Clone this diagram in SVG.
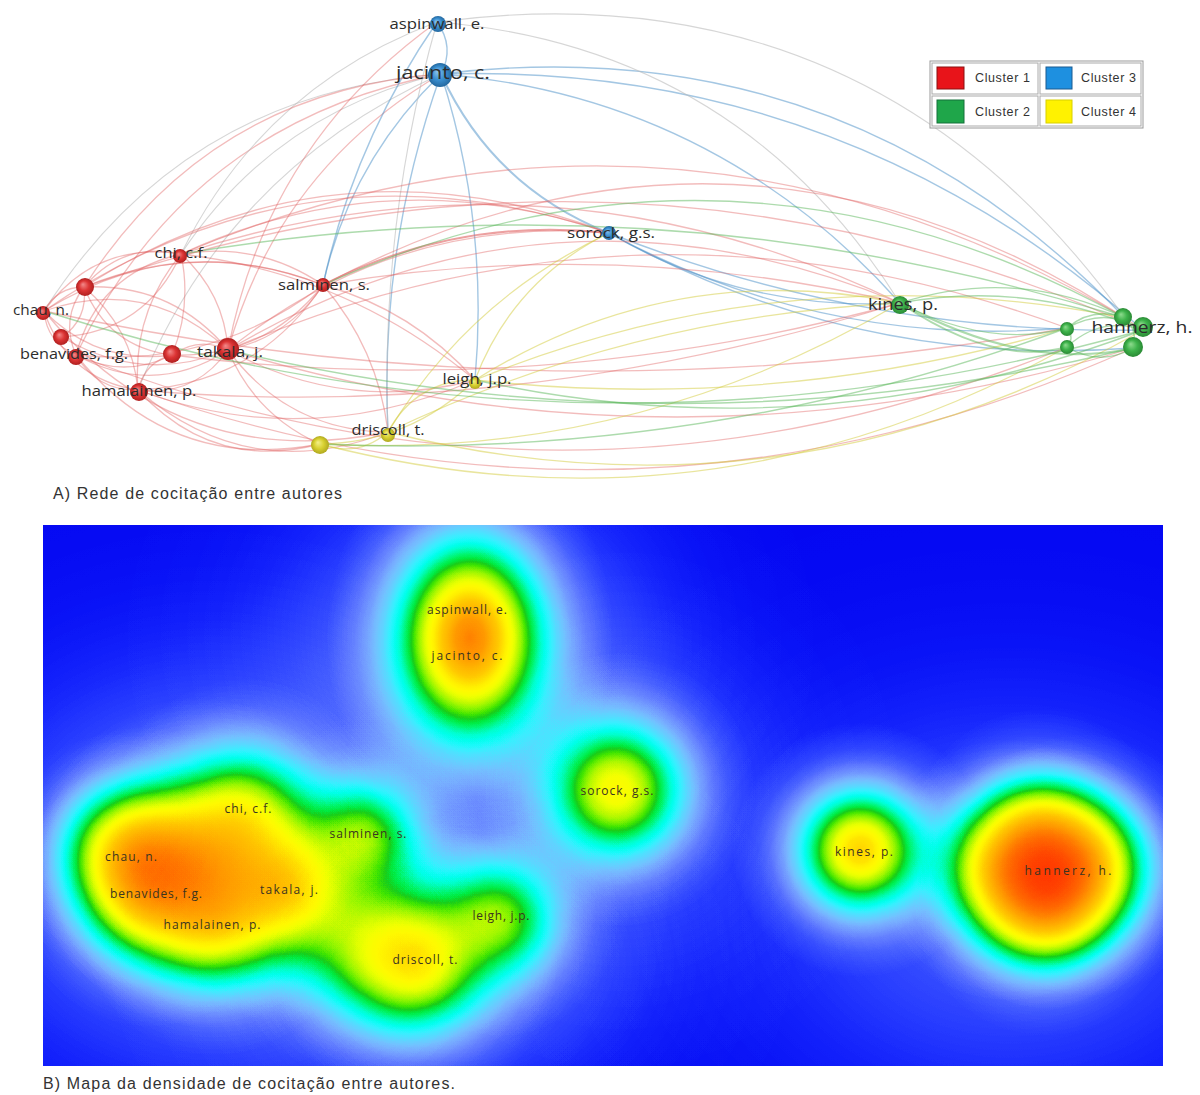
<svg xmlns="http://www.w3.org/2000/svg" width="1200" height="1095" viewBox="0 0 1200 1095">
<style>
.e path{fill:none}
.r{stroke:#e06060;stroke-opacity:.42;stroke-width:1.3}
.b{stroke:#4a90c8;stroke-opacity:.5;stroke-width:1.4}
.g{stroke:#5cb85c;stroke-opacity:.5;stroke-width:1.4}
.y{stroke:#d4cc3c;stroke-opacity:.5;stroke-width:1.3}
.gr{stroke:#bbbbbb;stroke-opacity:.6;stroke-width:1.1}
.lbl{font-family:"Open Sans","DejaVu Sans",sans-serif;fill:#2c2c2c;text-anchor:middle}
.dl{font-family:"Open Sans","DejaVu Sans",sans-serif;font-size:12px;fill:#3a3420;text-anchor:middle}
.cap{font-family:"Liberation Sans",Arial,sans-serif;font-size:16px;fill:#333}
.leg{font-family:"Liberation Sans",Arial,sans-serif;font-size:12.5px;fill:#333}
.k{fill:url(#kg)}
</style>
<defs>
<radialGradient id="nr" cx="50%" cy="50%" r="50%" fx="38%" fy="35%"><stop offset="0" stop-color="#f38a8a"/><stop offset=".55" stop-color="#dc3434"/><stop offset="1" stop-color="#b01f1f"/></radialGradient>
<radialGradient id="nb" cx="50%" cy="50%" r="50%" fx="38%" fy="35%"><stop offset="0" stop-color="#8cc4ee"/><stop offset=".55" stop-color="#3a8fd0"/><stop offset="1" stop-color="#23689f"/></radialGradient>
<radialGradient id="ng" cx="50%" cy="50%" r="50%" fx="38%" fy="35%"><stop offset="0" stop-color="#8fdc8f"/><stop offset=".55" stop-color="#3db24a"/><stop offset="1" stop-color="#2a8a35"/></radialGradient>
<radialGradient id="ny" cx="50%" cy="50%" r="50%" fx="38%" fy="35%"><stop offset="0" stop-color="#f4f08a"/><stop offset=".55" stop-color="#d8d030"/><stop offset="1" stop-color="#b0a820"/></radialGradient>
<radialGradient id="kg" cx="50%" cy="50%" r="50%">
<stop offset="0" stop-color="#fff" stop-opacity="1"/><stop offset=".1" stop-color="#fff" stop-opacity=".956"/><stop offset=".2" stop-color="#fff" stop-opacity=".835"/><stop offset=".3" stop-color="#fff" stop-opacity=".667"/><stop offset=".4" stop-color="#fff" stop-opacity=".487"/><stop offset=".5" stop-color="#fff" stop-opacity=".325"/><stop offset=".6" stop-color="#fff" stop-opacity=".198"/><stop offset=".7" stop-color="#fff" stop-opacity=".11"/><stop offset=".8" stop-color="#fff" stop-opacity=".056"/><stop offset=".9" stop-color="#fff" stop-opacity=".026"/><stop offset="1" stop-color="#fff" stop-opacity="0"/>
</radialGradient>
<filter id="heat" filterUnits="userSpaceOnUse" x="43" y="525" width="1120" height="541" color-interpolation-filters="sRGB">
<feComponentTransfer>
<feFuncR type="table" tableValues=".02 .04 .08 .14 .2 .27 .35 .41 .45 .47 .45 .39 .31 .22 .1 0 0 0 0 0 .1 .25 .45 .62 .76 .88 .96 1 1 1 1 1 1 1 1 1 1 1 1 1 1"/>
<feFuncG type="table" tableValues=".03 .08 .14 .22 .29 .37 .45 .53 .61 .69 .76 .82 .88 .94 .98 1 1 .98 .96 .92 .8 .9 .94 .97 .98 1 1 .98 .94 .88 .82 .76 .71 .65 .59 .51 .43 .35 .25 .16 .08"/>
<feFuncB type="table" tableValues=".95 .97 .99 1 1 1 1 1 1 1 1 1 1 1 .98 .92 .8 .62 .42 .25 .1 0 0 0 0 0 0 0 0 0 0 0 0 0 0 0 0 0 0 0 0"/>
</feComponentTransfer>
</filter>
<clipPath id="dclip"><rect x="43" y="525" width="1120" height="541"/></clipPath>
</defs>
<rect width="1200" height="1095" fill="#fff"/>

<g id="edges" class="e">
<path class="b" d="M437 22 Q455 47 441 74"/>
<path class="b" style="stroke-width:2" d="M441 74 Q493 187 609 233"/>
<path class="b" d="M441 74 Q843 62 1143 330"/>
<path class="b" d="M441 74 Q716 97 900 303"/>
<path class="gr" d="M437 22 Q870 -36 1125 318"/>
<path class="b" d="M441 74 Q844 25 1125 318"/>
<path class="gr" d="M437 22 Q739 47 900 303"/>
<path class="b" d="M609 233 Q824 349 1067 328"/>
<path class="b" d="M609 233 Q854 369 1133 348"/>
<path class="b" d="M609 233 Q744 312 900 303"/>
<path class="b" d="M609 233 Q866 335 1143 330"/>
<path class="gr" d="M441 74 Q275 112 181 254"/>
<path class="r" d="M441 74 Q279 169 228 350"/>
<path class="b" d="M441 74 Q350 162 323 285"/>
<path class="gr" d="M441 74 Q183 93 44 311"/>
<path class="r" d="M441 74 Q188 123 76 355"/>
<path class="gr" d="M441 74 Q226 171 138 390"/>
<path class="b" d="M441 74 Q379 248 388 432"/>
<path class="b" d="M441 74 Q489 224 475 380"/>
<path class="r" d="M437 22 Q267 144 228 350"/>
<path class="gr" d="M437 22 Q263 87 181 254"/>
<path class="b" d="M437 22 Q354 142 323 285"/>
<path class="gr" d="M437 22 Q380 223 388 432"/>
<path class="r" d="M441 74 Q209 91 84 287"/>

<path class="r" d="M181 254 Q95 241 44 311"/>
<path class="r" d="M181 254 Q123 241 84 287"/>
<path class="r" d="M181 254 Q98 273 76 355"/>
<path class="r" d="M181 254 Q146 331 62 337"/>
<path class="r" d="M181 254 Q224 293 228 350"/>
<path class="r" d="M181 254 Q132 313 138 390"/>
<path class="r" d="M181 254 Q192 306 172 355"/>
<path class="r" d="M181 254 Q258 241 323 285"/>
<path class="r" d="M323 285 Q289 337 228 350"/>
<path class="r" d="M323 285 Q177 228 44 311"/>
<path class="r" d="M323 285 Q203 238 84 287"/>
<path class="r" d="M323 285 Q214 369 76 355"/>
<path class="r" d="M323 285 Q257 384 138 390"/>
<path class="r" d="M228 350 Q148 275 44 311"/>
<path class="r" d="M228 350 Q172 283 84 287"/>
<path class="r" d="M228 350 Q154 398 76 355"/>
<path class="r" d="M228 350 Q142 385 62 337"/>
<path class="r" d="M228 350 Q195 397 138 390"/>
<path class="r" d="M172 355 Q124 379 76 355"/>
<path class="r" d="M172 355 Q97 365 44 311"/>
<path class="r" d="M138 390 Q67 379 44 311"/>
<path class="r" d="M138 390 Q132 328 84 287"/>
<path class="r" d="M76 355 Q60 319 84 287"/>
<path class="r" d="M44 311 Q57 287 84 287"/>
<path class="r" d="M62 337 Q88 319 84 287"/>
<path class="r" d="M172 355 Q199 336 228 350"/>
<path class="r" d="M138 390 Q97 391 76 355"/>
<path class="r" d="M138 390 Q145 362 172 355"/>
<path class="r" d="M323 285 Q265 358 172 355"/>
<path class="r" d="M44 311 Q47 343 76 355"/>
<path class="r" d="M84 287 Q108 347 172 355"/>
<path class="r" d="M228 350 Q288 431 388 432"/>
<path class="r" d="M138 390 Q250 486 388 432"/>
<path class="r" d="M138 390 Q213 472 320 444"/>
<path class="r" d="M228 350 Q255 415 320 444"/>
<path class="r" d="M323 285 Q413 310 475 380"/>
<path class="r" d="M323 285 Q378 349 388 432"/>
<path class="r" d="M228 350 Q346 414 475 380"/>
<path class="r" d="M76 355 Q171 473 320 444"/>
<path class="r" d="M44 311 Q180 475 388 432"/>
<path class="r" d="M181 254 Q347 273 475 380"/>
<path class="r" d="M138 390 Q305 452 475 380"/>
<path class="r" style="stroke-width:2;stroke-opacity:.6" d="M323 285 Q458 216 609 233"/>
<path class="r" d="M181 254 Q391 158 609 233"/>
<path class="r" d="M228 350 Q395 215 609 233"/>
<path class="r" d="M44 311 Q307 131 609 233"/>
<path class="r" d="M84 287 Q333 129 609 233"/>
<path class="r" d="M323 285 Q747 62 1143 330"/>
<path class="r" d="M181 254 Q669 50 1125 318"/>
<path class="r" d="M228 350 Q552 159 900 303"/>
<path class="r" d="M181 254 Q550 135 900 303"/>
<path class="r" d="M228 350 Q643 171 1067 328"/>
<path class="r" d="M138 390 Q644 568 1133 348"/>
<path class="r" d="M76 355 Q573 549 1067 347"/>
<path class="r" d="M44 311 Q554 422 1067 328"/>
<path class="r" d="M172 355 Q541 402 900 303"/>
<path class="r" d="M323 285 Q613 236 900 303"/>
<path class="r" d="M84 287 Q622 97 1143 330"/>
<path class="r" d="M228 350 Q681 485 1133 348"/>
<path class="r" d="M138 390 Q510 423 900 303"/>

<path class="y" d="M388 432 Q358 458 320 444"/>
<path class="y" d="M388 432 Q416 380 475 380"/>
<path class="y" d="M320 444 Q410 443 475 380"/>
<path class="y" d="M388 432 Q786 532 1143 330"/>
<path class="y" d="M320 444 Q713 545 1067 347"/>
<path class="y" d="M475 380 Q672 257 900 303"/>
<path class="y" d="M475 380 Q776 413 1067 328"/>
<path class="y" d="M475 380 Q791 252 1125 318"/>
<path class="y" d="M320 444 Q631 461 900 303"/>
<path class="y" d="M388 432 Q631 316 900 303"/>
<path class="y" d="M475 380 Q513 280 609 233"/>
<path class="y" d="M388 432 Q469 299 609 233"/>

<path class="g" d="M900 303 Q989 349 1067 328"/>
<path class="g" style="stroke-width:2" d="M900 303 Q995 367 1067 347"/>
<path class="g" style="stroke-width:2" d="M900 303 Q1026 372 1133 348"/>
<path class="g" d="M900 303 Q1026 280 1143 330"/>
<path class="g" d="M900 303 Q1016 266 1125 318"/>
<path class="g" d="M1067 328 Q1106 306 1143 330"/>
<path class="g" d="M1067 347 Q1100 367 1133 348"/>
<path class="g" d="M1067 328 Q1093 306 1125 318"/>
<path class="g" d="M1067 347 Q1100 316 1143 330"/>
<path class="g" d="M1125 318 Q1138 331 1133 348"/>
<path class="g" d="M1067 328 Q1075 338 1067 347"/>
<path class="g" d="M1143 330 Q817 455 475 380"/>
<path class="g" d="M1125 318 Q732 101 323 285"/>
<path class="g" d="M1133 348 Q681 458 228 350"/>
<path class="g" d="M1143 330 Q591 485 44 311"/>
<path class="g" d="M1125 318 Q661 173 181 254"/>
<path class="g" d="M1067 328 Q705 461 320 444"/>
</g>

<g id="node-aspinwall"><circle cx="438" cy="24" r="8" fill="url(#nb)"/><text class="lbl" x="437" y="29" font-size="15" textLength="95" lengthAdjust="spacingAndGlyphs">aspinwall, e.</text></g>
<g id="node-jacinto"><circle cx="440" cy="75" r="12" fill="url(#nb)"/><text class="lbl" x="443" y="79" font-size="18" textLength="94" lengthAdjust="spacingAndGlyphs">jacinto, c.</text></g>
<g id="node-sorock"><circle cx="609" cy="233" r="7" fill="url(#nb)"/><text class="lbl" x="611" y="238" font-size="15" textLength="88" lengthAdjust="spacingAndGlyphs">sorock, g.s.</text></g>
<g id="node-chi"><circle cx="180" cy="256" r="7" fill="url(#nr)"/><text class="lbl" x="181" y="258" font-size="14" textLength="53" lengthAdjust="spacingAndGlyphs">chi, c.f.</text></g>
<g id="node-salminen"><circle cx="323" cy="285" r="7" fill="url(#nr)"/><text class="lbl" x="324" y="290" font-size="14" textLength="92" lengthAdjust="spacingAndGlyphs">salminen, s.</text></g>
<g id="node-r1"><circle cx="85" cy="287" r="9" fill="url(#nr)"/></g>
<g id="node-chau"><circle cx="43" cy="313" r="7" fill="url(#nr)"/><text class="lbl" x="41" y="315" font-size="14" textLength="56" lengthAdjust="spacingAndGlyphs">chau, n.</text></g>
<g id="node-r2"><circle cx="61" cy="337" r="8" fill="url(#nr)"/></g>
<g id="node-benavides"><circle cx="76" cy="357" r="8" fill="url(#nr)"/><text class="lbl" x="74" y="359" font-size="14" textLength="108" lengthAdjust="spacingAndGlyphs">benavides, f.g.</text></g>
<g id="node-r3"><circle cx="172" cy="354" r="9" fill="url(#nr)"/></g>
<g id="node-takala"><circle cx="228" cy="349" r="11" fill="url(#nr)"/><text class="lbl" x="230" y="357" font-size="14" textLength="66" lengthAdjust="spacingAndGlyphs">takala, j.</text></g>
<g id="node-hamalainen"><circle cx="139" cy="392" r="9" fill="url(#nr)"/><text class="lbl" x="139" y="396" font-size="14" textLength="115" lengthAdjust="spacingAndGlyphs">hamalainen, p.</text></g>
<g id="node-leigh"><circle cx="475" cy="383" r="6" fill="url(#ny)"/><text class="lbl" x="477" y="384" font-size="14" textLength="69" lengthAdjust="spacingAndGlyphs">leigh, j.p.</text></g>
<g id="node-driscoll"><circle cx="388" cy="435" r="7" fill="url(#ny)"/><text class="lbl" x="388" y="435" font-size="14" textLength="73" lengthAdjust="spacingAndGlyphs">driscoll, t.</text></g>
<g id="node-y1"><circle cx="320" cy="445" r="9" fill="url(#ny)"/></g>
<g id="node-kines"><circle cx="900" cy="305" r="9" fill="url(#ng)"/><text class="lbl" x="903" y="310" font-size="16" textLength="70" lengthAdjust="spacingAndGlyphs">kines, p.</text></g>
<g id="node-g1"><circle cx="1067" cy="329" r="7" fill="url(#ng)"/></g>
<g id="node-g2"><circle cx="1067" cy="347" r="7" fill="url(#ng)"/></g>
<g id="node-g3"><circle cx="1123" cy="317" r="9" fill="url(#ng)"/></g>
<g id="node-g5"><circle cx="1133" cy="347" r="10" fill="url(#ng)"/></g>
<g id="node-hannerz"><circle cx="1143" cy="327" r="10" fill="url(#ng)"/><text class="lbl" x="1142" y="333" font-size="17" textLength="101" lengthAdjust="spacingAndGlyphs">hannerz, h.</text></g>

<g id="legend">
<rect x="930" y="61" width="213" height="67" fill="#fff" stroke="#999"/>
<rect x="932" y="63" width="106" height="31" fill="none" stroke="#aaa"/>
<rect x="1040" y="63" width="101" height="31" fill="none" stroke="#aaa"/>
<rect x="932" y="96" width="106" height="30" fill="none" stroke="#aaa"/>
<rect x="1040" y="96" width="101" height="30" fill="none" stroke="#aaa"/>
<rect x="937" y="67" width="27" height="22" fill="#e8141a" stroke="#8a1010"/>
<rect x="1046" y="67" width="26" height="22" fill="#1e90e0" stroke="#1a5a90"/>
<rect x="937" y="100" width="27" height="23" fill="#1fa64a" stroke="#15703a"/>
<rect x="1046" y="100" width="26" height="23" fill="#fff200" stroke="#d8d000"/>
<text class="leg" x="975" y="82" textLength="55">Cluster 1</text>
<text class="leg" x="975" y="116" textLength="55">Cluster 2</text>
<text class="leg" x="1081" y="82" textLength="55">Cluster 3</text>
<text class="leg" x="1081" y="116" textLength="55">Cluster 4</text>
</g>

<text class="cap" x="53" y="499" textLength="289">A) Rede de cocitação entre autores</text>

<g id="density" clip-path="url(#dclip)">
<g filter="url(#heat)">
<rect x="43" y="525" width="1120" height="541" fill="#000"/>
<ellipse class="k" cx="210" cy="870" rx="480" ry="420" fill-opacity=".18"/>
<ellipse class="k" cx="470" cy="640" rx="360" ry="330" fill-opacity=".16"/>
<ellipse class="k" cx="620" cy="790" rx="300" ry="300" fill-opacity=".1"/>
<ellipse class="k" cx="1010" cy="900" rx="540" ry="420" fill-opacity=".13"/>
<ellipse class="k" cx="450" cy="960" rx="360" ry="270" fill-opacity=".15"/>
<ellipse class="k" cx="470" cy="638" rx="144" ry="195" fill-opacity=".85"/>
<ellipse class="k" cx="617" cy="790" rx="138" ry="138" fill-opacity=".62"/>
<ellipse class="k" cx="860" cy="850" rx="128" ry="128" fill-opacity=".72"/>
<ellipse class="k" cx="1008" cy="870" rx="132" ry="132" fill-opacity=".55"/>
<ellipse class="k" cx="1040" cy="840" rx="132" ry="132" fill-opacity=".55"/>
<ellipse class="k" cx="1085" cy="865" rx="132" ry="132" fill-opacity=".55"/>
<ellipse class="k" cx="1045" cy="905" rx="132" ry="132" fill-opacity=".55"/>
<ellipse class="k" cx="1050" cy="878" rx="132" ry="132" fill-opacity=".65"/>
<ellipse class="k" cx="142" cy="858" rx="132" ry="132" fill-opacity=".56"/>
<ellipse class="k" cx="150" cy="893" rx="135" ry="135" fill-opacity=".55"/>
<ellipse class="k" cx="215" cy="922" rx="135" ry="135" fill-opacity=".5"/>
<ellipse class="k" cx="285" cy="888" rx="135" ry="135" fill-opacity=".6"/>
<ellipse class="k" cx="245" cy="812" rx="135" ry="135" fill-opacity=".45"/>
<ellipse class="k" cx="365" cy="835" rx="114" ry="114" fill-opacity=".45"/>
<ellipse class="k" cx="200" cy="862" rx="165" ry="165" fill-opacity=".55"/>
<ellipse class="k" cx="415" cy="962" rx="144" ry="144" fill-opacity=".6"/>
<ellipse class="k" cx="500" cy="918" rx="120" ry="120" fill-opacity=".45"/>
<ellipse class="k" cx="115" cy="845" rx="114" ry="114" fill-opacity=".26"/>
<ellipse class="k" cx="360" cy="945" rx="135" ry="135" fill-opacity=".3"/>
</g>
</g>

<g id="density-labels">
<text class="dl" x="467" y="614" textLength="80">aspinwall, e.</text>
<text class="dl" x="467" y="660" textLength="71">jacinto, c.</text>
<text class="dl" x="617" y="795" textLength="73">sorock, g.s.</text>
<text class="dl" x="248" y="813" textLength="47">chi, c.f.</text>
<text class="dl" x="368" y="838" textLength="77">salminen, s.</text>
<text class="dl" x="131" y="861" textLength="52">chau, n.</text>
<text class="dl" x="156" y="898" textLength="92">benavides, f.g.</text>
<text class="dl" x="289" y="894" textLength="58">takala, j.</text>
<text class="dl" x="212" y="929" textLength="97">hamalainen, p.</text>
<text class="dl" x="501" y="920" textLength="57">leigh, j.p.</text>
<text class="dl" x="425" y="964" textLength="65">driscoll, t.</text>
<text class="dl" x="864" y="856" textLength="58">kines, p.</text>
<text class="dl" x="1068" y="875" textLength="87">hannerz, h.</text>
</g>

<text class="cap" x="43" y="1089" textLength="412">B) Mapa da densidade de cocitação entre autores.</text>
</svg>
